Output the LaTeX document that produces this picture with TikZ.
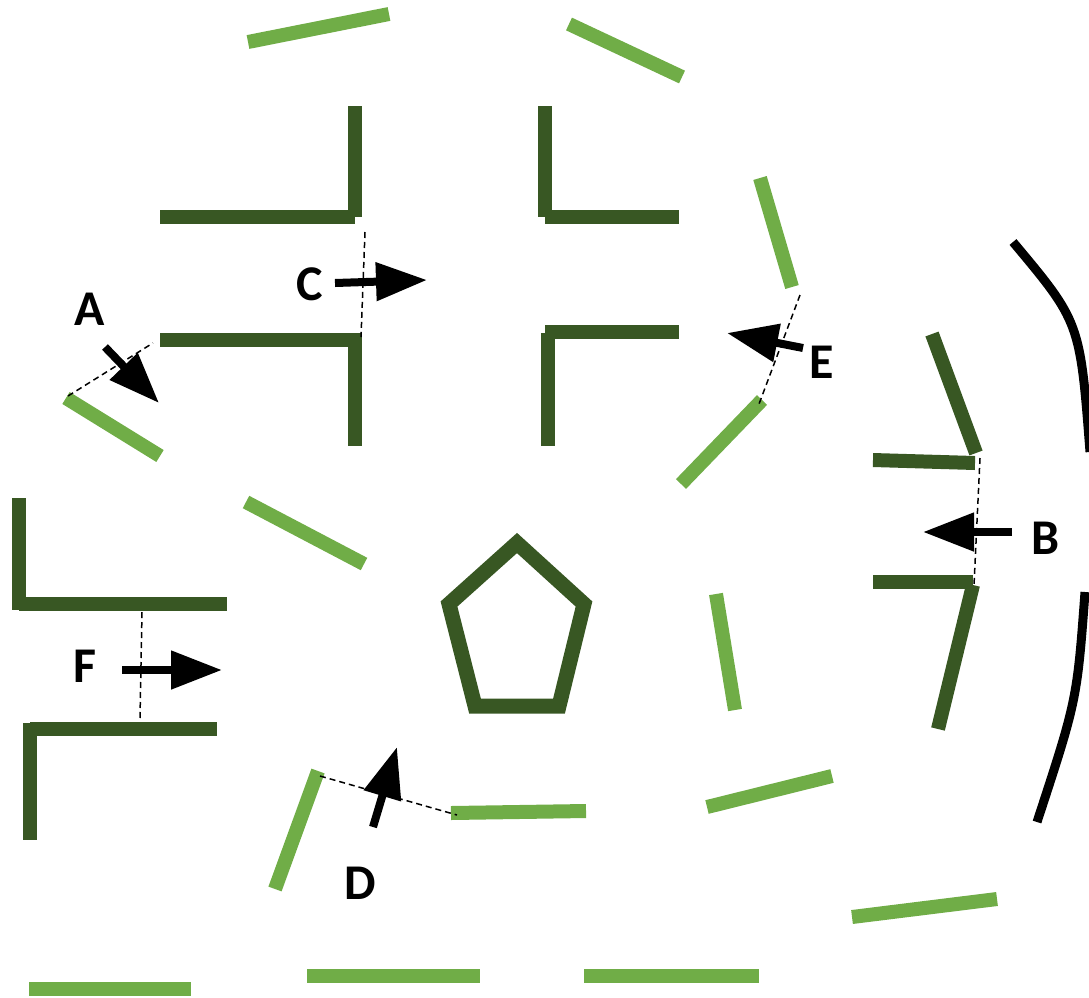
\documentclass[tikz,border=0pt]{standalone}
\usepackage{fontspec}
\setmainfont{Carlito}
\usetikzlibrary{arrows.meta}
\definecolor{lgreen}{HTML}{70AD47}
\definecolor{dgreen}{HTML}{385723}
\begin{document}
\begin{tikzpicture}[x=1pt,y=-1pt,
  lseg/.style={draw=lgreen,line width=14pt},
  dseg/.style={draw=dgreen,line width=14pt},
  pent/.style={draw=dgreen,line width=15pt},
  arcline/.style={draw=black,line width=9pt},
  bigarrow/.style={draw=black,line width=8pt,-{Triangle[length=51pt,width=37pt]}},
  guide/.style={draw=black,line width=1.5pt,dash pattern=on 6pt off 4pt},
  lbl/.style={inner sep=0pt,font=\fontsize{50}{60}\selectfont\bfseries}]
\useasboundingbox (0,0) rectangle (1089,997);
% light green segments
\draw[lseg] (248,42) -- (389,14);
\draw[lseg] (569,24) -- (682,77);
\draw[lseg] (760,178) -- (792,287);
\draw[lseg] (66,398) -- (160,456);
\draw[lseg] (246,502) -- (364,564);
\draw[lseg] (681,484) -- (762,400);
\draw[lseg] (716,594) -- (735,710);
\draw[lseg] (275,889) -- (318,771);
\draw[lseg] (451,813) -- (586,811);
\draw[lseg] (707,807) -- (832,776);
\draw[lseg] (852,917) -- (997,899);
\draw[lseg] (29,989) -- (191,989);
\draw[lseg] (307,976) -- (480,976);
\draw[lseg] (584,976) -- (759,976);
% dark green corners
\draw[dseg] (160,217) -- (355,217);
\draw[dseg] (355,106) -- (355,217);
\draw[dseg] (160,340) -- (355,340);
\draw[dseg] (355,333) -- (355,446);
\draw[dseg] (545,106) -- (545,217);
\draw[dseg] (545,217) -- (679,217);
\draw[dseg] (545,332) -- (679,332);
\draw[dseg] (548,333) -- (548,446);
\draw[dseg] (19,498) -- (19,610);
\draw[dseg] (19,604) -- (227,604);
\draw[dseg] (30,729) -- (217,729);
\draw[dseg] (30,723) -- (30,840);
\draw[dseg] (932,334) -- (976,453);
\draw[dseg] (873,460) -- (975,463);
\draw[dseg] (873,582) -- (973,582);
\draw[dseg] (973,585) -- (938,729);
% pentagon
\draw[pent] (517,543) -- (584,604) -- (559,706) -- (475,706) -- (449,604) -- cycle;
% black arcs
\draw[arcline] (1013,242) .. controls (1080,322) .. (1090,452);
\draw[arcline] (1085,592) .. controls (1077,700) .. (1037,822);
% dashed guides
\coordinate (gA1) at (68,396); \coordinate (gA2) at (153,343);
\coordinate (gC1) at (365,232); \coordinate (gC2) at (361,337);
\coordinate (gE1) at (800,295); \coordinate (gE2) at (759,404);
\coordinate (gB1) at (980,458); \coordinate (gB2) at (974,585);
\coordinate (gF1) at (142,612); \coordinate (gF2) at (140,718);
\coordinate (gD1) at (320,776); \coordinate (gD2) at (457,815);
\draw[guide] (gA1) -- (gA2);
\draw[guide] (gC1) -- (gC2);
\draw[guide] (gE1) -- (gE2);
\draw[guide] (gB1) -- (gB2);
\draw[guide] (gF1) -- (gF2);
\draw[guide] (gD1) -- (gD2);
% arrows
\coordinate (aA1) at (105,347); \coordinate (aA2) at (159,403);
\coordinate (aC1) at (335,283); \coordinate (aC2) at (427,280);
\coordinate (aE1) at (803,348); \coordinate (aE2) at (727,333);
\coordinate (aB1) at (1012,532); \coordinate (aB2) at (923,532);
\coordinate (aF1) at (122,670); \coordinate (aF2) at (222,670);
\coordinate (aD1) at (373,827); \coordinate (aD2) at (397,747);
\draw[bigarrow] (aA1) -- (aA2);
\draw[bigarrow] (aC1) -- (aC2);
\draw[bigarrow] (aE1) -- (aE2);
\draw[bigarrow] (aB1) -- (aB2);
\draw[bigarrow] (aF1) -- (aF2);
\draw[bigarrow] (aD1) -- (aD2);
% labels
\node[lbl] (lA) at (90,309) {A};
\node[lbl] (lC) at (310,284) {C};
\node[lbl] (lE) at (822,362) {E};
\node[lbl] (lB) at (1045,538) {B};
\node[lbl] (lF) at (85,666) {F};
\node[lbl] (lD) at (360,883) {D};
\end{tikzpicture}
\end{document}
